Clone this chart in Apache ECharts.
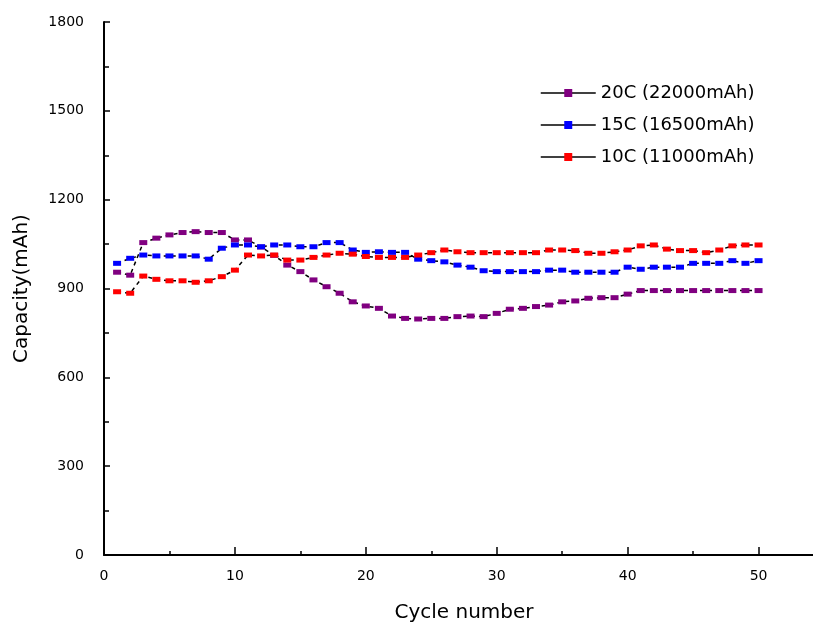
<!DOCTYPE html>
<html>
<head>
<meta charset="utf-8">
<script src="https://cdn.jsdelivr.net/npm/echarts@6/dist/echarts.min.js"></script>
<style>
html,body{margin:0;padding:0;background:#fff;}
#main{width:813px;height:624px;}
</style>
</head>
<body>
<div id="main"></div>
<script>
var cycles = [1,2,3,4,5,6,7,8,9,10,11,12,13,14,15,16,17,18,19,20,21,22,23,24,25,26,27,28,29,30,31,32,33,34,35,36,37,38,39,40,41,42,43,44,45,46,47,48,49,50];
var seriesNames = ['20C (22000mAh)', '15C (16500mAh)', '10C (11000mAh)'];
var cap20C = [955,945,1055,1070,1081,1089,1092,1089,1089,1064,1064,1040,1012,979,957,929,906,884,855,841,833,807,799,797,799,799,805,807,805,816,830,833,839,844,855,858,867,869,869,881,893,893,893,893,893,893,893,893,893,893];
var cap15C = [985,1002,1013,1010,1010,1010,1010,999,1036,1047,1047,1041,1047,1047,1041,1041,1055,1055,1030,1022,1024,1022,1022,999,994,990,979,972,960,957,957,957,957,962,962,955,955,955,955,972,965,972,972,972,985,985,985,994,985,994];
var cap10C = [889,884,942,931,926,926,921,926,940,962,1013,1010,1013,996,996,1005,1013,1019,1016,1008,1005,1005,1005,1013,1021,1030,1024,1021,1021,1021,1021,1021,1021,1030,1030,1028,1019,1019,1024,1030,1044,1047,1033,1028,1028,1021,1030,1044,1047,1047];
var xTicks = [0,10,20,30,40,50];
var yTicks = [0,300,600,900,1200,1500,1800];
var colors = ['#800080', '#0000ff', '#ff0000'];

function pairs(vals){ return cycles.map(function(c,i){ return [c, vals[i]]; }); }

var font = 'DejaVu Sans';
var chart = echarts.init(document.getElementById('main'), null, {renderer:'canvas'});
function mkSeries(name, vals, color){
  return {
    name: name, type: 'line', data: pairs(vals),
    symbol: 'rect', symbolSize: [8,5],
    itemStyle: {color: color},
    lineStyle: {color: '#000', width: 1.5, type: [4,4]},
    emphasis: {disabled: true}
  };
}
chart.setOption({
  animation: false,
  backgroundColor: '#fff',
  grid: {left: 104, top: 22, height: 533, width: 720, containLabel: false, outerBoundsMode: 'none'},
  legend: {
    orient: 'vertical', left: 535, top: 79,
    itemWidth: 55, itemHeight: 10, itemGap: 14,
    data: seriesNames,
    lineStyle: {type: 'solid', color: '#000', width: 1.5},
    textStyle: {fontFamily: font, fontSize: 18, color: '#000'}
  },
  xAxis: {
    type: 'value', min: 0, max: 55, interval: 10,
    name: 'Cycle number', nameLocation: 'middle', nameGap: 48,
    nameTextStyle: {fontFamily: font, fontSize: 20, color: '#000'},
    axisLine: {show: true, lineStyle: {color: '#000', width: 2}},
    axisTick: {show: true, inside: true, length: 8, lineStyle: {color: '#000', width: 1.5}},
    minorTick: {show: true, splitNumber: 2, length: 4, lineStyle: {color: '#000', width: 1.5}},
    splitLine: {show: false},
    axisLabel: {fontFamily: font, fontSize: 14, color: '#000', margin: 14,
      formatter: function(v){ return xTicks.indexOf(v) >= 0 ? String(v) : ''; }}
  },
  yAxis: {
    type: 'value', min: 0, max: 1800, interval: 300,
    name: 'Capacity(mAh)', nameLocation: 'middle', nameGap: 72, nameRotate: 90,
    nameTextStyle: {fontFamily: font, fontSize: 20, color: '#000'},
    axisLine: {show: true, lineStyle: {color: '#000', width: 2}},
    axisTick: {show: true, inside: true, length: 6, lineStyle: {color: '#000', width: 1.5}},
    minorTick: {show: true, splitNumber: 2, length: 5, lineStyle: {color: '#000', width: 1.5}},
    splitLine: {show: false},
    axisLabel: {fontFamily: font, fontSize: 14, color: '#000', margin: 20,
      formatter: function(v){ return yTicks.indexOf(v) >= 0 ? String(v) : ''; }}
  },
  series: [
    mkSeries(seriesNames[0], cap20C, colors[0]),
    mkSeries(seriesNames[1], cap15C, colors[1]),
    mkSeries(seriesNames[2], cap10C, colors[2])
  ]
});
</script>
</body>
</html>
